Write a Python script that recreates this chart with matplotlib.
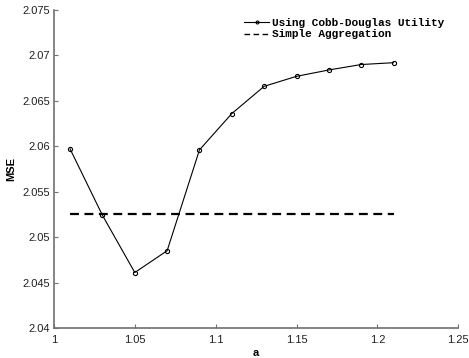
import matplotlib
matplotlib.use('Agg')
import matplotlib.pyplot as plt

# Data
a_vals = [1.01, 1.03, 1.05, 1.07, 1.09, 1.11, 1.13, 1.15, 1.17, 1.19, 1.21]
mse_cobb = [2.0597, 2.0524, 2.0461, 2.0485, 2.0596, 2.0636, 2.0666, 2.0677, 2.0684, 2.0690, 2.0692]
simple_x = [1.01, 1.21]
simple_mse = [2.0525, 2.0525]

xticks = [1, 1.05, 1.1, 1.15, 1.2, 1.25]
xtick_labels = ['1', '1.05', '1.1', '1.15', '1.2', '1.25']
yticks = [2.04, 2.045, 2.05, 2.055, 2.06, 2.065, 2.07, 2.075]
ytick_labels = ['2.04', '2.045', '2.05', '2.055', '2.06', '2.065', '2.07', '2.075']

plt.rcParams['font.family'] = ['Liberation Sans', 'DejaVu Sans']

fig = plt.figure(figsize=(4.69, 3.58), dpi=100)
ax = fig.add_axes((0.115, 0.084, 0.862, 0.888))

ax.plot(a_vals, mse_cobb, '-o', color='black', linewidth=0.8, markersize=3,
        markerfacecolor='none', markeredgewidth=0.8, label='Using Cobb-Douglas Utility')
ax.plot(simple_x, simple_mse, '--', color='black', linewidth=1.6, dashes=(4, 2.5),
        label='Simple Aggregation')

ax.set_xlim(1, 1.25)
ax.set_ylim(2.04, 2.075)
ax.set_xticks(xticks)
ax.set_xticklabels(xtick_labels)
ax.set_yticks(yticks)
ax.set_yticklabels(ytick_labels)

ax.spines['top'].set_visible(False)
ax.spines['right'].set_visible(False)
for s in ['left', 'bottom']:
    ax.spines[s].set_color('#707070')
    ax.spines[s].set_linewidth(1.2)
ax.tick_params(direction='in', length=3, labelsize=8, colors='#202020', pad=3)
ax.tick_params(axis='x', pad=5)
ax.tick_params(color='#707070')

ax.set_xlabel('a', fontsize=8, fontweight='bold', labelpad=2)
ax.set_ylabel('MSE', fontsize=8, fontweight='bold', labelpad=4)

leg = ax.legend(loc='upper right', bbox_to_anchor=(0.985, 1.0), frameon=False,
                prop={'family': 'Liberation Mono', 'weight': 'bold', 'size': 8},
                handlelength=2.2, handletextpad=0.3, labelspacing=0.15, borderaxespad=0.3,
                markerscale=0.7)
leg.get_lines()[1].set_linewidth(1.0)

fig.savefig('out.png', dpi=100)
